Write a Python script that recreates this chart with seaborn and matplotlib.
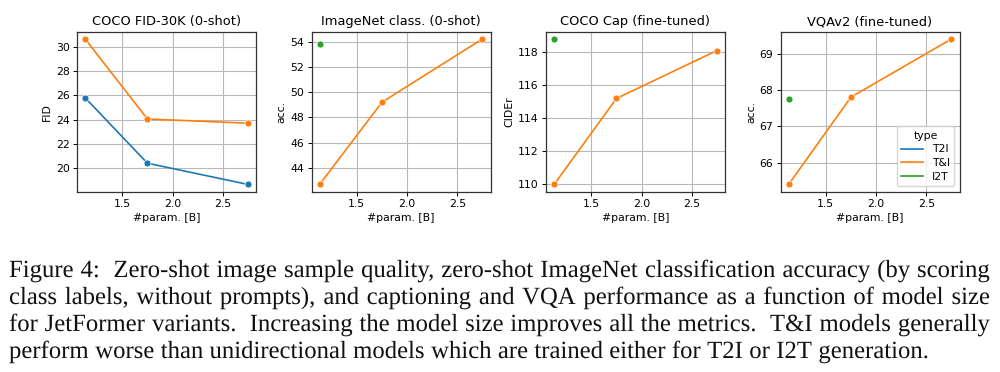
import numpy as np
import pandas as pd
import matplotlib
matplotlib.use('Agg')
import matplotlib.pyplot as plt
import matplotlib.patheffects as pe
from matplotlib.lines import Line2D
from matplotlib.ticker import MultipleLocator
from matplotlib.font_manager import FontProperties
import seaborn as sns

# model sizes (B params)
params = [1.13, 1.75, 2.75]
params_i2t = [1.13]

# COCO FID-30K (0-shot)
fid_t2i = [25.8, 20.4, 18.65]
fid_ti = [30.65, 24.05, 23.7]
# ImageNet class. (0-shot)
inet_ti = [42.7, 49.2, 54.2]
inet_i2t = [53.8]
# COCO Cap (fine-tuned)
cider_ti = [110.0, 115.2, 118.1]
cider_i2t = [118.8]
# VQAv2 (fine-tuned)
vqa_ti = [65.4, 67.8, 69.4]
vqa_i2t = [67.75]

types = ['T2I', 'T&I', 'I2T']
titles = ['COCO FID-30K (0-shot)', 'ImageNet class. (0-shot)',
          'COCO Cap (fine-tuned)', 'VQAv2 (fine-tuned)']
ylabels = ['FID', 'acc.', 'CIDEr', 'acc.']
ysteps = [2, 2, 2, 1]

caption_lines = [
    "Figure 4:  Zero-shot image sample quality, zero-shot ImageNet classification accuracy (by scoring",
    "class labels, without prompts), and captioning and VQA performance as a function of model size",
    "for JetFormer variants.  Increasing the model size improves all the metrics.  T&I models generally",
    "perform worse than unidirectional models which are trained either for T2I or I2T generation.",
]


def make_df(series):
    rows = []
    for t, xs, ys in series:
        for x, y in zip(xs, ys):
            rows.append({'param': x, 'value': y, 'type': t})
    return pd.DataFrame(rows)


panels = [
    make_df([('T2I', params, fid_t2i), ('T&I', params, fid_ti)]),
    make_df([('T&I', params, inet_ti), ('I2T', params_i2t, inet_i2t)]),
    make_df([('T&I', params, cider_ti), ('I2T', params_i2t, cider_i2t)]),
    make_df([('T&I', params, vqa_ti), ('I2T', params_i2t, vqa_i2t)]),
]

colors = sns.color_palette('tab10', 3)
pal = dict(zip(types, colors))

fig = plt.figure(figsize=(10, 3.72), dpi=100)

fs = 7.8  # the figure was scaled down in the paper
for i, df in enumerate(panels):
    ax = fig.add_axes([(77 + 234.5 * i) / 1000, 0.4847, 0.179, 0.430])
    sns.lineplot(data=df, x='param', y='value', hue='type', hue_order=types,
                 palette=pal, marker='o', markersize=5, linewidth=1.2,
                 markeredgecolor='white', markeredgewidth=0.5, legend=False, ax=ax)
    ax.grid(True, color='#b8b8b8', linewidth=0.8)
    ax.set_axisbelow(True)
    ax.set_title(titles[i], fontsize=9.4, pad=4.5)
    ax.set_xlabel('#param. [B]', fontsize=fs, labelpad=2.5)
    ax.set_ylabel(ylabels[i], fontsize=fs, labelpad=2.5)
    ax.tick_params(labelsize=fs, length=2.8, pad=2.5, width=0.7)
    ax.set_xticks([1.5, 2.0, 2.5])
    ax.yaxis.set_major_locator(MultipleLocator(ysteps[i]))
    for s in ax.spines.values():
        s.set_linewidth(0.9)
        s.set_color('#333333')
    if i == 3:
        handles = [Line2D([], [], color=pal[t], linewidth=1.2) for t in types]
        ax.legend(handles, types, title='type', loc='lower right', fontsize=fs,
                  title_fontsize=fs, handlelength=2.0, borderpad=0.4,
                  labelspacing=0.35, framealpha=0.8)

# caption, fully justified like the paper
# words are drawn through a path effect so that their baselines line up exactly
fig.canvas.draw()
renderer = fig.canvas.get_renderer()
prop = FontProperties(family='Liberation Serif', size=17.8)
x0, x1 = 9, 990
baselines = [277, 304, 331, 358]
H = 372
for li, line in enumerate(caption_lines):
    words = line.split(' ')
    last = li == len(caption_lines) - 1
    widths = [renderer.get_text_width_height_descent(w, prop, ismath=False)[0] if w else 0
              for w in words]
    space = renderer.get_text_width_height_descent('a a', prop, ismath=False)[0] - \
        2 * renderer.get_text_width_height_descent('a', prop, ismath=False)[0]
    gap = space if last else (x1 - x0 - sum(widths)) / (len(words) - 1)
    x = x0
    for w, wd in zip(words, widths):
        if w:
            fig.text(x / 1000, (H - baselines[li]) / H, w, va='baseline', ha='left',
                     fontproperties=prop, color='#111111',
                     path_effects=[pe.Normal()])
        x += wd + gap

fig.savefig('out.png', dpi=100)
